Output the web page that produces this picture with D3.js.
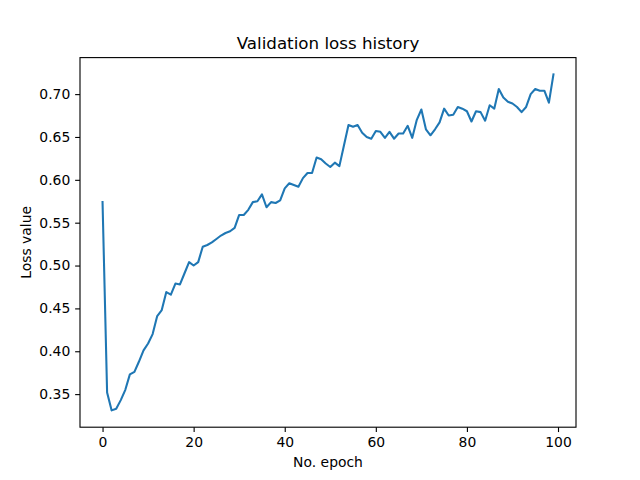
<!DOCTYPE html>
<html>
<head>
<meta charset="utf-8">
<script src="https://cdn.jsdelivr.net/npm/d3@7"></script>
<style>
  body { margin: 0; background: #fff; }
  text { font-family: "DejaVu Sans", sans-serif; fill: #000; }
</style>
</head>
<body>
<div id="chart"></div>
<script>

// epochs 0..99 and the validation loss
const epochs = d3.range(0, 100);
const lossValues = [
    0.574, 0.352, 0.331, 0.333, 0.343, 0.355, 0.373, 0.376, 0.388, 0.401,
    0.409, 0.420, 0.441, 0.448, 0.469, 0.466, 0.479, 0.478, 0.491, 0.504,
    0.500, 0.504, 0.522, 0.524, 0.527, 0.531, 0.535, 0.538, 0.540, 0.544,
    0.559, 0.559, 0.565, 0.574, 0.575, 0.583, 0.568, 0.574, 0.573, 0.576,
    0.590, 0.596, 0.594, 0.592, 0.602, 0.608, 0.608, 0.626, 0.624, 0.619,
    0.615, 0.620, 0.616, 0.640, 0.664, 0.662, 0.664, 0.655, 0.650, 0.648,
    0.657, 0.656, 0.649, 0.656, 0.648, 0.654, 0.654, 0.663, 0.649, 0.670,
    0.682, 0.659, 0.652, 0.659, 0.667, 0.683, 0.675, 0.676, 0.685, 0.683,
    0.680, 0.668, 0.680, 0.679, 0.669, 0.687, 0.683, 0.706, 0.696, 0.691,
    0.689, 0.685, 0.679, 0.685, 0.700, 0.706, 0.704, 0.704, 0.690, 0.723
];

// tick labels for both axes
const xTicks = [0, 20, 40, 60, 80, 100];
const yTicks = [0.35, 0.40, 0.45, 0.50, 0.55, 0.60, 0.65, 0.70];

const titleText = "Validation loss history";
const xLabelText = "No. epoch";
const yLabelText = "Loss value";

// figure size and the axes box (matplotlib defaults for a 640x480 figure)
const width = 640, height = 480;
const margin = {top: 57.6, right: 64, bottom: 52.8, left: 80};
const plotW = width - margin.left - margin.right;
const plotH = height - margin.top - margin.bottom;

let svg = d3.select("#chart").append("svg")
    .attr("width", width)
    .attr("height", height);

// 5% padding on each side of the data like matplotlib autoscale
let xExt = d3.extent(epochs);
let xPad = (xExt[1] - xExt[0]) * 0.05;
let x = d3.scaleLinear()
    .domain([xExt[0] - xPad, xExt[1] + xPad])
    .range([0, plotW]);

let yExt = d3.extent(lossValues);
let yPad = (yExt[1] - yExt[0]) * 0.05;
let y = d3.scaleLinear()
    .domain([yExt[0] - yPad, yExt[1] + yPad])
    .range([plotH, 0]);

let g = svg.append("g")
    .attr("transform", "translate(" + margin.left + "," + margin.top + ")");

// the loss line
let line = d3.line()
    .x((d, i) => x(epochs[i]))
    .y(d => y(d));

g.append("path")
    .datum(lossValues)
    .attr("fill", "none")
    .attr("stroke", "#1f77b4")
    .attr("stroke-width", 2.08)
    .attr("stroke-linejoin", "round")
    .attr("stroke-linecap", "square")
    .attr("d", line);

// x axis
let xAxis = g.append("g")
    .attr("transform", "translate(0," + plotH + ")")
    .call(d3.axisBottom(x).tickValues(xTicks).tickSize(4.86).tickPadding(4.86).tickFormat(d3.format("d")));

// y axis
let yAxis = g.append("g")
    .call(d3.axisLeft(y).tickValues(yTicks).tickSize(4.86).tickPadding(4.86).tickFormat(d3.format(".2f")));

[xAxis, yAxis].forEach(a => {
    a.select(".domain").remove();
    a.selectAll(".tick line").attr("stroke", "#000").attr("stroke-width", 1.11);
    a.selectAll(".tick text").attr("font-size", "13.9px").attr("font-family", "DejaVu Sans");
});

// frame round the axes
g.append("rect")
    .attr("x", 0)
    .attr("y", 0)
    .attr("width", plotW)
    .attr("height", plotH)
    .attr("fill", "none")
    .attr("stroke", "#000")
    .attr("stroke-width", 1.11);

// title and labels
svg.append("text")
    .attr("x", margin.left + plotW / 2)
    .attr("y", margin.top - 8.3)
    .attr("text-anchor", "middle")
    .attr("font-size", "16.7px")
    .text(titleText);

svg.append("text")
    .attr("x", margin.left + plotW / 2)
    .attr("y", 467)
    .attr("text-anchor", "middle")
    .attr("font-size", "13.9px")
    .text(xLabelText);

svg.append("text")
    .attr("transform", "translate(30.5," + (margin.top + plotH / 2) + ") rotate(-90)")
    .attr("text-anchor", "middle")
    .attr("font-size", "13.9px")
    .text(yLabelText);

</script>
</body>
</html>
